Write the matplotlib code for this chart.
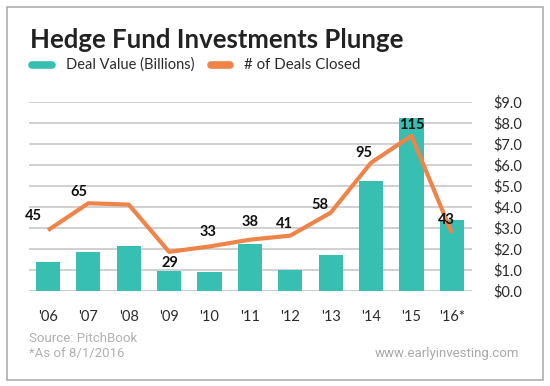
import matplotlib
matplotlib.use("Agg")
import matplotlib.pyplot as plt
from matplotlib.lines import Line2D
from matplotlib.patches import Rectangle

years = ["'06", "'07", "'08", "'09", "'10", "'11", "'12", "'13", "'14", "'15", "'16*"]
deal_value = [1.38, 1.87, 2.14, 0.97, 0.89, 2.22, 1.0, 1.73, 5.24, 8.25, 3.37]
deals_closed = [45, 65, 64, 29, 33, 38, 41, 58, 95, 115, 43]
deal_labels = ["45", "65", "", "29", "33", "38", "41", "58", "95", "115", "43"]
right_ticks = [0, 1, 2, 3, 4, 5, 6, 7, 8, 9]

TEAL = "#37bfb1"
ORANGE = "#ef8449"
DARK = "#2b2b2b"
GRID = "#c4c4c4"
FONT = "Lato"

# label offsets in pixels (dx, dy up)
label_off = [(-15, 14), (-9, 11), (0, 0), (1, -11), (-1, 14), (0, 18),
             (-6, 12), (-11, 8), (-7, 10), (0, 11), (-5, 13)]

W, H = 550, 386
fig = plt.figure(figsize=(W / 100, H / 100), dpi=100)
fig.patch.set_facecolor("white")

# outer border
fig.add_artist(Rectangle((6.5 / W, 1 - 379.5 / H), 536 / W, 373 / H,
                         transform=fig.transFigure, fill=False,
                         edgecolor="#a8a8a8", lw=1.1))

ax = fig.add_axes([29 / W, 1 - 291 / H, (472 - 29) / W, (291 - 102) / H])
x = list(range(len(years)))
ax.bar(x, deal_value, width=0.6, color=TEAL, zorder=2)
ax.set_xlim(-0.47, len(years) - 0.5)
ax.set_ylim(0, 9)
ax.grid(axis="y", color=GRID, lw=1.1, zorder=0)
ax.set_axisbelow(True)
for s in ax.spines.values():
    s.set_visible(False)

ax2 = ax.twinx()
ax2.set_ylim(0, 140)
ax2.plot(x, deals_closed, color=ORANGE, lw=3.0, zorder=3, solid_capstyle="butt")
ax2.set_yticks([])
for s in ax2.spines.values():
    s.set_visible(False)
for xi, v, t, (dx, dy) in zip(x, deals_closed, deal_labels, label_off):
    if t:
        ax2.annotate(t, (xi, v), xytext=(dx * 0.72, dy * 0.72),
                     textcoords="offset points", ha="center", va="center",
                     fontsize=10.5, fontweight="bold", color="#111111",
                     fontfamily=FONT, zorder=4)

# right-hand value axis (set after twinx, which resets tick side)
ax.yaxis.tick_right()
ax.set_yticks(right_ticks)
ax.set_yticklabels([f"${v:.1f}" for v in right_ticks])
ax.tick_params(axis="y", which="both", left=False, right=False, labelleft=False,
               labelright=True, length=0, pad=15, labelsize=10.5, labelcolor=DARK)
ax.set_xticks(x)
ax.set_xticklabels(years)
ax.tick_params(axis="x", length=0, pad=14, labelsize=10.5, labelcolor=DARK)
for lab in ax.get_xticklabels() + ax.get_yticklabels():
    lab.set_fontfamily(FONT)

# title
fig.text(30 / W, 1 - 48 / H, "Hedge Fund Investments Plunge", fontsize=18.5,
         fontweight="bold", color="#222222", fontfamily=FONT, va="baseline")

# legend
fig.add_artist(Line2D([32 / W, 52 / W], [1 - 65 / H] * 2, transform=fig.transFigure,
                      color=TEAL, lw=5.5, solid_capstyle="round"))
fig.text(66 / W, 1 - 65 / H, "Deal Value (Billions)", fontsize=10.5, color=DARK,
         fontfamily=FONT, va="center")
fig.add_artist(Line2D([211 / W, 230 / W], [1 - 65 / H] * 2, transform=fig.transFigure,
                      color=ORANGE, lw=5.5, solid_capstyle="round"))
fig.text(244 / W, 1 - 65 / H, "# of Deals Closed", fontsize=10.8, color=DARK,
         fontfamily=FONT, va="center")

# footer
fig.text(29 / W, 1 - 338 / H, "Source: PitchBook", fontsize=9.5, color="#b0b0b0",
         fontfamily="Roboto", va="center")
fig.text(29 / W, 1 - 354 / H, "*As of 8/1/2016", fontsize=9.5, color="#b0b0b0",
         fontfamily="Roboto", va="center")
fig.text(519 / W, 1 - 354 / H, "www.earlyinvesting.com", fontsize=9.5, color="#a8a8a8",
         fontfamily="Roboto", va="center", ha="right")

fig.savefig("out.png", dpi=100)
